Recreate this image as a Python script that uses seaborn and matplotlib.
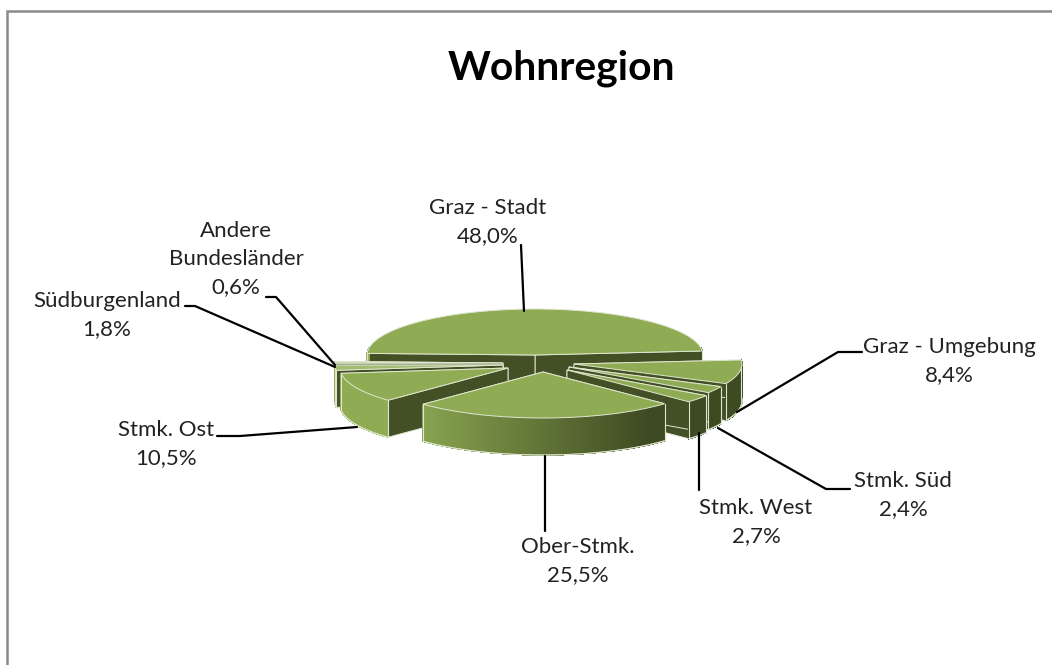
import numpy as np
import matplotlib
matplotlib.use("Agg")
import matplotlib.pyplot as plt
import seaborn as sns

# chart data
regions = ["Graz - Stadt", "Graz - Umgebung", "Stmk. Süd", "Stmk. West",
           "Ober-Stmk.", "Stmk. Ost", "Südburgenland", "Andere\nBundesländer"]
shares = [48.0, 8.4, 2.4, 2.7, 25.5, 10.5, 1.8, 0.6]
title = "Wohnregion"

sns.set_theme(style="white")
plt.rcParams["font.family"] = ["Lato", "DejaVu Sans"]

W, H = 1052, 665
CX, CY, RX, RY = 535, 355, 168, 46   # ellipse of the pie in pixels
DEPTH = 37 / RY

# where each slice apex sits, in pixels (excel-style explosion)
apex_px = [(535, 355), (574, 364), (569, 367), (567, 370),
           (543, 372), (508, 368), (503, 365), (503, 363)]
draw_order = [0, 7, 6, 5, 1, 2, 3, 4]

top_colors = ["#8fac54"] * 6 + ["#a3bb72", "#c6d6a4"]
face_color = "#434f25"
edge_color = "#dfe6cf"
wall_cmap = sns.blend_palette(["#8fac54", "#3e4a22"], as_cmap=True)

fig = plt.figure(figsize=(W / 100, H / 100), dpi=100, facecolor="white")

# pie axes: one unit is RX px across and RY px high, so the circle turns into an ellipse
ax = fig.add_axes([0, 0, 1, 1])
wedges, _ = ax.pie(shares, startangle=178, counterclock=False, radius=1)
ax.set_aspect("auto")
ax.set_xlim((0 - CX) / RX, (W - CX) / RX)
ax.set_ylim((CY - H) / RY, CY / RY)
ax.axis("off")

for rank, i in enumerate(draw_order):
    w = wedges[i]
    cx = (apex_px[i][0] - CX) / RX
    cy = (CY - apex_px[i][1]) / RY
    w.set_center((cx, cy))
    w.set_facecolor(top_colors[i])
    w.set_edgecolor(edge_color)
    w.set_linewidth(0.7)
    z = 10 + rank * 10
    w.set_zorder(z + 3)

    # the two cut faces
    for ang in (w.theta1, w.theta2):
        ex = cx + np.cos(np.radians(ang))
        ey = cy + np.sin(np.radians(ang))
        ax.fill([cx, ex, ex, cx], [cy, ey, ey - DEPTH, cy - DEPTH],
                facecolor=face_color, edgecolor=edge_color, linewidth=0.7, zorder=z)

    # outer wall, in thin strips so the shading runs across it
    t = np.radians(np.linspace(w.theta1, w.theta2, max(3, int(w.theta2 - w.theta1) * 2)))
    for a, b in zip(t[:-1], t[1:]):
        if np.sin(a) > 0.15 or np.sin(b) > 0.15:
            continue
        xs = cx + np.cos([a, b])
        ys = cy + np.sin([a, b])
        px = CX + RX * xs.mean()
        col = wall_cmap(np.clip((px - 400) / (650 - 400), 0, 1))
        ax.fill([xs[0], xs[1], xs[1], xs[0]], [ys[0], ys[1], ys[1] - DEPTH, ys[0] - DEPTH],
                facecolor=col, edgecolor=col, linewidth=0.5, antialiased=False, zorder=z + 1)
        ax.plot(xs, ys - DEPTH, color=edge_color, lw=0.8, zorder=z + 2)

    # pale corner lines on top of the wall
    for ang in (w.theta1, w.theta2):
        ex = cx + np.cos(np.radians(ang))
        ey = cy + np.sin(np.radians(ang))
        if np.sin(np.radians(ang)) < 0.15:
            ax.plot([ex, ex], [ey, ey - DEPTH], color=edge_color, lw=0.8, zorder=z + 2)

# overlay in pixel coordinates for frame, leaders and labels
ov = fig.add_axes([0, 0, 1, 1], zorder=5)
ov.set_xlim(0, W)
ov.set_ylim(H, 0)
ov.axis("off")
ov.patch.set_alpha(0)

ov.plot([7, 7, W], [H, 11, 11], color="#8a8a8a", lw=1.8, solid_joinstyle="miter")

leaders = [
    [(521, 245), (524, 311)],
    [(862, 352), (838, 352), (737, 412)],
    [(850, 489), (826, 489), (718, 428)],
    [(699, 490), (699, 433)],
    [(545, 531), (545, 456)],
    [(217, 436), (240, 436), (357, 427)],
    [(185, 306), (195, 306), (335, 367)],
    [(266, 297), (276, 297), (335, 365)],
]
for pts in leaders:
    xs, ys = zip(*pts)
    ov.plot(xs, ys, color="black", lw=1.6)

label_xy = [(488, 222), (949, 361), (903, 495), (756, 522),
            (578, 561), (166, 444), (107, 315), (236, 259)]
for name, val, (x, y) in zip(regions, shares, label_xy):
    txt = name + "\n" + f"{val:.1f}%".replace(".", ",")
    ov.text(x, y, txt, ha="center", va="center", fontsize=16, color="#222222", linespacing=1.5)

ov.text(561, 68, title, ha="center", va="center", fontsize=29.3, fontweight="bold", color="black")

fig.savefig("out.png", dpi=100)
